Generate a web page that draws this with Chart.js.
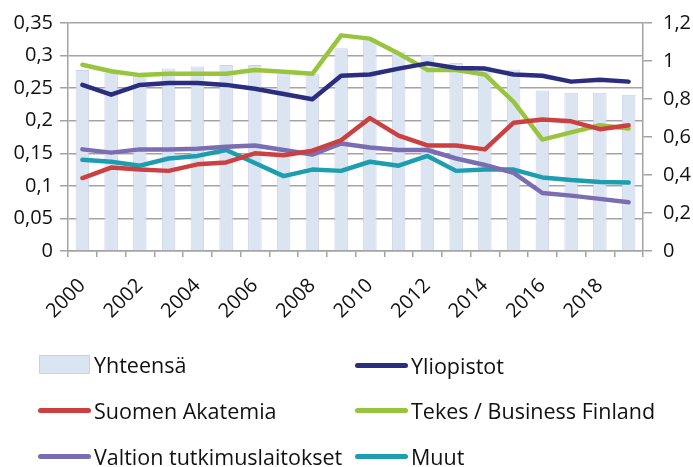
<!DOCTYPE html>
<html>
<head>
<meta charset="utf-8">
<script src="https://cdn.jsdelivr.net/npm/chart.js@4.4.1/dist/chart.umd.min.js"></script>
<style>
  body { margin:0; background:#fff; }
  #wrap { position:relative; width:693px; height:467px; }
  #legend { position:absolute; left:0; top:0; width:693px; height:467px; pointer-events:none;
            font-family:"Open Sans", sans-serif; font-size:21.5px; color:#111; }
  .item { position:absolute; display:flex; align-items:center; height:28px; }
  .sw { width:53px; margin-right:3px; }
</style>
</head>
<body>
<div id="wrap">
  <canvas id="mycanvas" width="693" height="467"></canvas>
  <div id="legend"></div>
</div>
<script>
var years = ['2000','2001','2002','2003','2004','2005','2006','2007','2008','2009','2010','2011','2012','2013','2014','2015','2016','2017','2018','2019'];

// Yhteensä, right axis
var yhteensa = [0.952,0.938,0.938,0.960,0.971,0.979,0.979,0.930,0.930,1.067,1.117,1.049,1.032,0.989,0.972,0.955,0.845,0.833,0.833,0.823];

// left axis
var yliopistot = [0.255,0.240,0.255,0.258,0.258,0.255,0.249,0.241,0.233,0.269,0.271,0.280,0.288,0.281,0.280,0.271,0.269,0.260,0.263,0.260];
var akatemia = [0.112,0.128,0.125,0.123,0.133,0.136,0.150,0.147,0.154,0.170,0.204,0.177,0.162,0.162,0.156,0.197,0.202,0.199,0.187,0.193];
var tekes = [0.286,0.276,0.270,0.272,0.272,0.272,0.278,0.275,0.272,0.331,0.326,0.303,0.278,0.278,0.271,0.229,0.171,0.182,0.193,0.188];
var valtion = [0.156,0.151,0.156,0.156,0.157,0.160,0.162,0.155,0.148,0.165,0.159,0.155,0.155,0.142,0.132,0.120,0.089,0.085,0.080,0.075];
var muut = [0.140,0.137,0.131,0.142,0.146,0.155,0.135,0.115,0.125,0.123,0.137,0.131,0.146,0.123,0.125,0.125,0.113,0.109,0.106,0.105];

var gridCol = '#a3a3a3';
var fmt = function(v){ return String(Math.round(v*100)/100).replace('.', ','); };

function lineSet(label, data, color){
  return {type:'line', label:label, data:data, borderColor:color, backgroundColor:color,
          borderWidth:4.5, pointRadius:0, tension:0, yAxisID:'y', order:0,
          borderCapStyle:'round', borderJoinStyle:'round'};
}

var chardata = {
  labels: years,
  datasets: [
    {type:'bar', label:'Yhteensä', data:yhteensa, backgroundColor:'#dbe5f1', borderColor:'#cdd0ea',
     borderWidth:1, yAxisID:'y1', order:1, categoryPercentage:1, barPercentage:0.47},
    lineSet('Yliopistot', yliopistot, '#2b2d7e'),
    lineSet('Suomen Akatemia', akatemia, '#cb4040'),
    lineSet('Tekes / Business Finland', tekes, '#99c43d'),
    lineSet('Valtion tutkimuslaitokset', valtion, '#7b6db1'),
    lineSet('Muut', muut, '#1c9db0')
  ]
};

var tickFont = {family:'"Open Sans", sans-serif', size:20};

var ctx = document.getElementById('mycanvas');
var chart = new Chart(ctx, {
  type:'bar',
  data: chardata,
  options: {
    responsive:false, animation:false,
    layout:{padding:{top:15, right:0, left:0, bottom:0}},
    plugins:{legend:{display:false}, tooltip:{enabled:false}},
    scales:{
      x:{
        grid:{offset:true, drawOnChartArea:false, color:gridCol, lineWidth:1.5, tickLength:6},
        border:{color:gridCol, width:1.5},
        ticks:{color:'#111', font:tickFont, autoSkip:false, minRotation:45, maxRotation:45, padding:17,
               callback:function(v, i){ return i % 2 === 0 ? this.getLabelForValue(v) : ''; }},
        afterFit:function(s){ s.height = 216; }
      },
      y:{
        position:'left', min:0, max:0.35,
        grid:{color:gridCol, lineWidth:1.5, tickLength:8},
        border:{color:gridCol, width:1.5},
        ticks:{stepSize:0.05, color:'#111', font:tickFont, padding:7, callback:fmt},
        afterFit:function(s){ s.width = 68; }
      },
      y1:{
        position:'right', min:0, max:1.2,
        grid:{drawOnChartArea:false, color:gridCol, lineWidth:1.5, tickLength:9},
        border:{color:gridCol, width:1.5},
        ticks:{stepSize:0.2, color:'#111', font:tickFont, padding:11, callback:fmt},
        afterFit:function(s){ s.width = 50; }
      }
    }
  }
});

// legend in two columns below the chart
var leg = document.getElementById('legend');
var spots = [[38,364],[355,365],[38,410],[355,410],[38,456],[355,456]];
chardata.datasets.forEach(function(ds, i){
  var d = document.createElement('div');
  d.className = 'item';
  d.style.left = spots[i][0] + 'px';
  d.style.top = (spots[i][1] - 14) + 'px';
  var sw = document.createElement('span');
  sw.className = 'sw';
  if (ds.type === 'bar') {
    sw.style.height = '19px';
    sw.style.width = '51px';
    sw.style.marginRight = '4px';
    sw.style.marginLeft = '1px';
    sw.style.background = ds.backgroundColor;
    sw.style.border = '1px solid ' + ds.borderColor;
    sw.style.boxSizing = 'border-box';
  } else {
    sw.style.height = '5px';
    sw.style.borderRadius = '3px';
    sw.style.background = ds.borderColor;
  }
  var t = document.createElement('span');
  t.textContent = ds.label;
  d.appendChild(sw); d.appendChild(t);
  leg.appendChild(d);
});
</script>
</body>
</html>
